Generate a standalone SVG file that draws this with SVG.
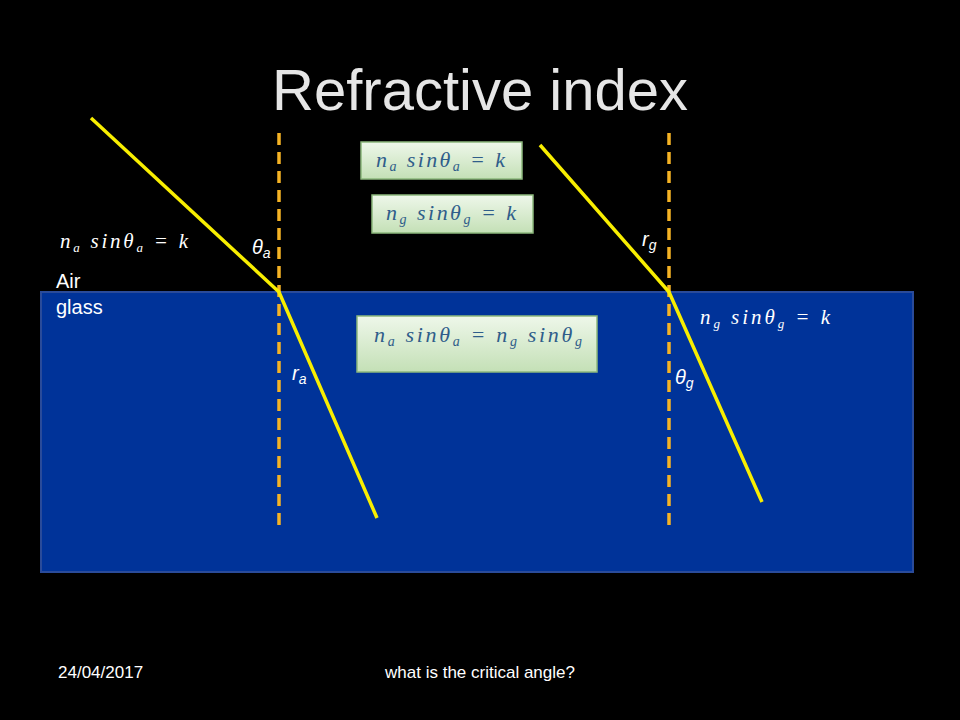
<svg xmlns="http://www.w3.org/2000/svg" width="960" height="720" viewBox="0 0 960 720">
<defs>
<linearGradient id="g" x1="0" y1="0" x2="0" y2="1"><stop offset="0" stop-color="#eef7ea"/><stop offset="1" stop-color="#c4e0b6"/></linearGradient>
<style>
.eq{font-family:"Liberation Serif",serif;font-style:italic;font-size:22px;fill:#2f5d8a}
.eqw{font-family:"Liberation Serif",serif;font-style:italic;font-size:21px;fill:#fff}
.box{fill:url(#g);stroke:#8cb87c;stroke-width:1.5}
.lbl{font-family:"Liberation Sans",Arial,sans-serif;font-size:20px;fill:#fff}
.ray{fill:none;stroke:#f8ee00;stroke-width:3.5}
.norm{stroke:#f5b324;stroke-width:3.5;stroke-dasharray:12,7}
.sm{font-family:"Liberation Sans",Arial,sans-serif;font-size:17px;fill:#fff}
</style>
</defs>
<rect width="960" height="720" fill="#000"/>
<text x="480" y="110" text-anchor="middle" font-family="Liberation Sans,Arial,sans-serif" font-size="58" fill="#e6e6e6">Refractive index</text>
<rect id="glass" x="41" y="292" width="872" height="280" fill="#003399" stroke="#2a4b9a" stroke-width="2"/>
<g id="connectors">
<line class="norm" x1="279" y1="133" x2="279" y2="525"/>
<line class="norm" x1="669" y1="133" x2="669" y2="525"/>
<polyline class="ray" points="91,118 279,292 377,518"/>
<polyline class="ray" points="540,145 669,292 762,502"/>
</g>
<g id="box1"><rect class="box" x="361" y="142" width="161" height="37"/>
<text class="eq" x="376" y="167" textLength="129" lengthAdjust="spacing">n<tspan font-size="14" dy="4">a</tspan><tspan dy="-4"> sinθ</tspan><tspan font-size="14" dy="4">a</tspan><tspan dy="-4"> = k</tspan></text></g>
<g id="box2"><rect class="box" x="372" y="195" width="161" height="38"/>
<text class="eq" x="386" y="220" textLength="130" lengthAdjust="spacing">n<tspan font-size="14" dy="4">g</tspan><tspan dy="-4"> sinθ</tspan><tspan font-size="14" dy="4">g</tspan><tspan dy="-4"> = k</tspan></text></g>
<g id="box3"><rect class="box" x="357" y="316" width="240" height="56"/>
<text class="eq" x="374" y="342" textLength="208" lengthAdjust="spacing">n<tspan font-size="14" dy="4">a</tspan><tspan dy="-4"> sinθ</tspan><tspan font-size="14" dy="4">a</tspan><tspan dy="-4"> =  n</tspan><tspan font-size="14" dy="4">g</tspan><tspan dy="-4"> sinθ</tspan><tspan font-size="14" dy="4">g</tspan></text></g>
<g id="eqL"><text class="eqw" x="60" y="248" textLength="128" lengthAdjust="spacing">n<tspan font-size="13" dy="4">a</tspan><tspan dy="-4"> sinθ</tspan><tspan font-size="13" dy="4">a</tspan><tspan dy="-4"> = k</tspan></text></g>
<g id="eqR"><text class="eqw" x="700" y="324" textLength="130" lengthAdjust="spacing">n<tspan font-size="13" dy="4">g</tspan><tspan dy="-4"> sinθ</tspan><tspan font-size="13" dy="4">g</tspan><tspan dy="-4"> = k</tspan></text></g>
<g id="labels">
<text class="lbl" x="56" y="288">Air</text>
<text class="lbl" x="56" y="314">glass</text>
<text class="lbl" font-style="italic" x="252" y="254">θ<tspan font-size="14" dy="4">a</tspan></text>
<text class="lbl" font-style="italic" x="292" y="380">r<tspan font-size="14" dy="4">a</tspan></text>
<text class="lbl" font-style="italic" x="642" y="246">r<tspan font-size="14" dy="4">g</tspan></text>
<text class="lbl" font-style="italic" x="675" y="384">θ<tspan font-size="14" dy="4">g</tspan></text>
</g>
<text class="sm" x="58" y="678">24/04/2017</text>
<text class="sm" x="480" y="678" text-anchor="middle">what is the critical angle?</text>
</svg>
